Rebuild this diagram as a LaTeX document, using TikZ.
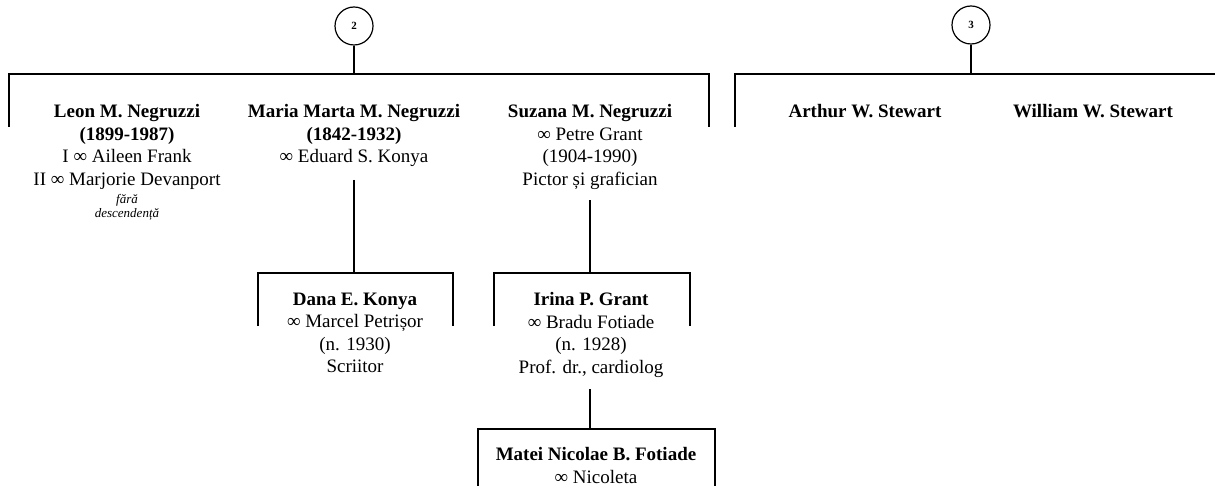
\documentclass[tikz,border=0pt]{standalone}
\usepackage{fontspec}
\setmainfont{Liberation Serif}
\begin{document}
\begin{tikzpicture}[x=1pt,y=-1pt,line width=1.6pt,
  pers/.style={anchor=north,align=center,inner sep=0pt,font=\fontsize{19}{22.5}\selectfont},
  note/.style={anchor=north,align=center,inner sep=0pt,font=\itshape\fontsize{13}{13.5}\selectfont},
  gen/.style={draw,circle,line width=1.2pt,minimum size=38pt,inner sep=0pt,font=\bfseries\fontsize{11}{12}\selectfont}]
\useasboundingbox (0,0) rectangle (1215,486);

% generation markers
\node[gen] (c2) at (354,26) {2};
\node[gen] (c3) at (971,25) {3};

\coordinate (j2) at (354,74);
\coordinate (b2l) at (9,127);
\coordinate (b2r) at (709,127);
\coordinate (j3) at (971,74);
\coordinate (b3l) at (735,127);
\coordinate (b3r) at (1215,74);

% children of 2
\node[pers] (leon) at (127,104) {\textbf{Leon M. Negruzzi}\\\textbf{(1899-1987)}\\I ∞ Aileen Frank\\II ∞ Marjorie Devanport};
\node[note] (leonnote) at (127,194) {fără\\descendență};
\node[pers] (maria) at (354,104) {\textbf{Maria Marta M. Negruzzi}\\\textbf{(1842-1932)}\\∞ Eduard S. Konya};
\node[pers] (suzana) at (590,104) {\textbf{Suzana M. Negruzzi}\\∞ Petre Grant\\(1904-1990)\\Pictor și grafician};

% children of 3
\node[pers] (arthur) at (865,104) {\textbf{Arthur W. Stewart}};
\node[pers] (william) at (1093,104) {\textbf{William W. Stewart}};

% next generations
\coordinate (j4) at (354,273);
\coordinate (dl) at (258,326);
\coordinate (dr) at (453,326);
\node[pers] (dana) at (355,292) {\textbf{Dana E. Konya}\\∞ Marcel Petrișor\\(n. 1930)\\Scriitor};

\coordinate (j5) at (590,273);
\coordinate (il) at (494,326);
\coordinate (ir) at (690,326);
\node[pers] (irina) at (591,292) {\textbf{Irina P. Grant}\\∞ Bradu Fotiade\\(n. 1928)\\Prof. dr., cardiolog};

\coordinate (j6) at (590,429);
\coordinate (ml) at (478,500);
\coordinate (mr) at (715,500);
\node[pers] (matei) at (596,447) {\textbf{Matei Nicolae B. Fotiade}\\∞ Nicoleta};

% connectors
\draw (c2) -- (j2);
\draw (b2l) |- (j2) -| (b2r);
\draw (c3) -- (j3);
\draw (b3l) |- (j3) -- (b3r);
\draw[shorten <=12pt] (maria) -- (j4);
\draw (dl) |- (j4) -| (dr);
\draw[shorten <=10pt] (suzana.south -| j5) -- (j5);
\draw (il) |- (j5) -| (ir);
\draw[shorten <=11pt] (irina.south -| j6) -- (j6);
\draw (ml) |- (j6) -| (mr);
\end{tikzpicture}
\end{document}
